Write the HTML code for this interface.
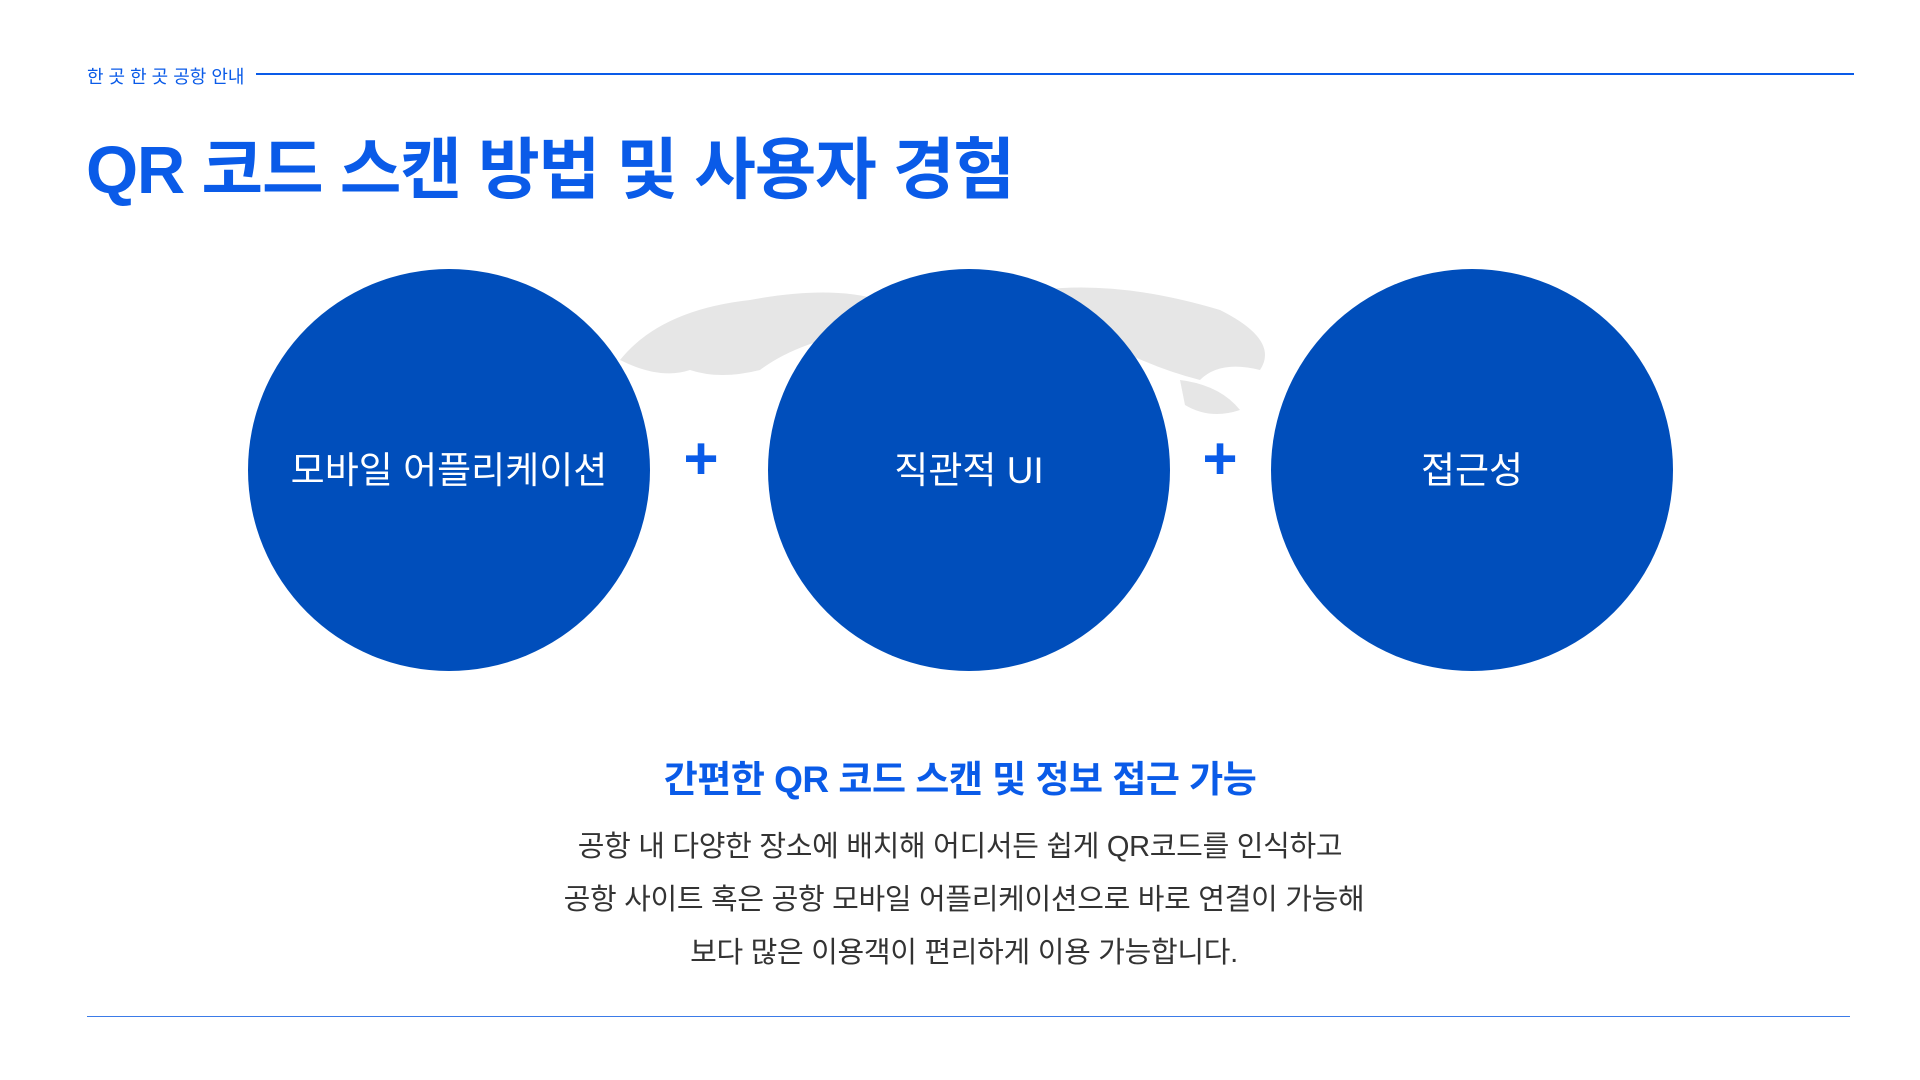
<!DOCTYPE html>
<html><head><meta charset="utf-8"><style>
body{margin:0;width:1920px;height:1080px;background:#fff;position:relative;overflow:hidden;font-family:"Liberation Sans","Noto Sans CJK KR",sans-serif}
.a{position:absolute}
.c{position:absolute;width:402px;height:402px;border-radius:50%;background:#004ebb;color:#fff;font-size:37px;display:flex;align-items:center;justify-content:center;top:269px;padding-bottom:6px;box-sizing:border-box}
.p{position:absolute;color:#0a5be8;font-size:60px;font-weight:bold;top:424px;width:60px;text-align:center}
.b{position:absolute;left:0;width:1920px;text-align:center;font-size:29px;color:#333;letter-spacing:-0.3px}
</style></head><body>
<div class="a" style="left:87px;top:63px;font-size:18px;color:#0a5be8">한 곳 한 곳 공항 안내</div>
<div class="a" style="left:256px;top:73px;width:1598px;height:2px;background:#0a5be8"></div>
<div class="a" style="left:86px;top:116px;font-size:67px;font-weight:bold;color:#0a5be8;letter-spacing:-1.2px">QR 코드 스캔 방법 및 사용자 경험</div>
<svg class="a" style="left:600px;top:270px" width="680" height="180"><g fill="#e6e6e6">
<path d="M20 90 Q60 40 150 30 Q230 15 280 30 L270 60 Q200 70 160 100 Q120 110 90 100 Q60 110 20 90Z"/>
<path d="M440 20 Q520 10 620 40 Q680 70 660 100 Q620 90 600 110 Q560 100 520 80 Q470 70 440 20Z"/>
<path d="M580 110 Q620 115 640 140 Q610 150 585 135Z"/></g></svg>
<div class="c" style="left:248px">모바일 어플리케이션</div>
<div class="c" style="left:768px">직관적 UI</div>
<div class="c" style="left:1271px">접근성</div>
<div class="p" style="left:671px">+</div>
<div class="p" style="left:1190px">+</div>
<div class="b" style="top:749px;font-size:37px;font-weight:bold;color:#0a5be8;left:0px;letter-spacing:-0.5px">간편한 QR 코드 스캔 및 정보 접근 가능</div>
<div class="b" style="top:823px">공항 내 다양한 장소에 배치해 어디서든 쉽게 QR코드를 인식하고</div>
<div class="b" style="top:876px;left:4px">공항 사이트 혹은 공항 모바일 어플리케이션으로 바로 연결이 가능해</div>
<div class="b" style="top:929px;left:4px">보다 많은 이용객이 편리하게 이용 가능합니다.</div>
<div class="a" style="left:87px;top:1016px;width:1763px;height:1px;background:#3b7be8"></div>
</body></html>
